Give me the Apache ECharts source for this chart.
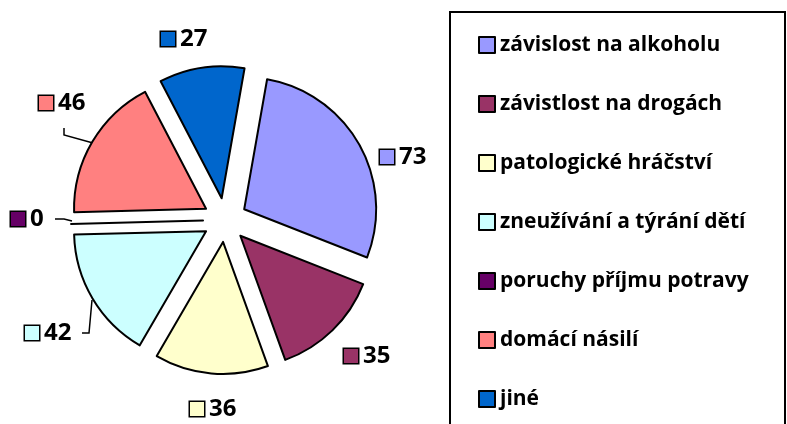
<!DOCTYPE html>
<html>
<head>
<meta charset="utf-8">
<script src="https://cdn.jsdelivr.net/npm/echarts@6/dist/echarts.min.js"></script>
<style>
  html, body { margin: 0; padding: 0; background: #fff; }
  #chart { width: 787px; height: 424px; }
</style>
</head>
<body>
<div id="chart"></div>
<script>
const categories = [
  'závislost na alkoholu',
  'závistlost na drogách',
  'patologické hráčství',
  'zneužívání a týrání dětí',
  'poruchy příjmu potravy',
  'domácí násilí',
  'jiné'
]
const values = [73, 35, 36, 42, 0, 46, 27]
const colors = ['#9999FF', '#993366', '#FFFFCC', '#CCFFFF', '#660066', '#FF8080', '#0066CC']

// value labels: left edge and vertical middle of each label
const labelX = [380, 344, 190, 25, 11, 39, 161]
const labelY = [157, 356, 409, 333, 219, 103, 39]
const leaderLines = [
  null, null, null,
  [[82, 333], [89, 333], [92, 300]],
  [[55, 219], [64, 219], [72, 221]],
  [[64, 128], [64, 135], [93, 143]],
  null
]

const FONT = '"Open Sans", sans-serif'
const CENTER = [225, 220]
const RADIUS = 132

const rich = {
  v: { fontFamily: FONT, fontWeight: 'bold', fontSize: 24, lineHeight: 26, color: '#000', padding: [0, 0, 0, 5] }
}
colors.forEach((c, i) => {
  rich['s' + i] = {
    width: 14, height: 14, backgroundColor: c,
    borderColor: '#000', borderWidth: 1.5, verticalAlign: 'middle'
  }
})

const chart = echarts.init(document.getElementById('chart'))

chart.setOption({
  animation: false,
  backgroundColor: '#fff',
  graphic: [{
    type: 'rect',
    shape: { x: 450, y: 12, width: 335, height: 430 },
    style: { fill: 'none', stroke: '#000', lineWidth: 2 },
    silent: true
  }],
  legend: {
    orient: 'vertical',
    left: 473,
    top: 28,
    icon: 'rect',
    itemWidth: 16,
    itemHeight: 16,
    itemGap: 35,
    selectedMode: false,
    itemStyle: { borderColor: '#000', borderWidth: 2 },
    textStyle: { fontFamily: FONT, fontWeight: 'bold', fontSize: 21, lineHeight: 24, color: '#000' },
    data: categories
  },
  series: [
    // exploded slices
    {
      type: 'pie',
      center: CENTER,
      radius: RADIUS,
      startAngle: 80,
      clockwise: true,
      selectedMode: 'multiple',
      selectedOffset: 22,
      emphasis: { disabled: true },
      itemStyle: { borderColor: '#000', borderWidth: 2 },
      label: { show: false },
      labelLine: { show: false },
      data: categories.map((name, i) => ({
        name: name,
        value: values[i],
        selected: true,
        itemStyle: { color: colors[i] }
      }))
    },
    // value labels (invisible twin, so the label layout is not moved by selection)
    {
      type: 'pie',
      center: CENTER,
      radius: RADIUS,
      startAngle: 80,
      clockwise: true,
      silent: true,
      avoidLabelOverlap: false,
      emphasis: { disabled: true },
      itemStyle: { color: 'rgba(0,0,0,0)', borderWidth: 0 },
      label: {
        show: true,
        position: 'outside',
        formatter: (p) => '{s' + p.dataIndex + '|}{v|' + p.value + '}',
        rich: rich
      },
      labelLayout: (p) => {
        const i = p.dataIndex
        const out = { x: labelX[i], y: labelY[i], align: 'left', verticalAlign: 'middle' }
        if (leaderLines[i]) out.labelLinePoints = leaderLines[i]
        return out
      },
      data: categories.map((name, i) => ({
        name: name,
        value: values[i],
        labelLine: leaderLines[i]
          ? { show: true, lineStyle: { color: '#000', width: 1.5 } }
          : { show: false }
      }))
    }
  ]
})
</script>
</body>
</html>
